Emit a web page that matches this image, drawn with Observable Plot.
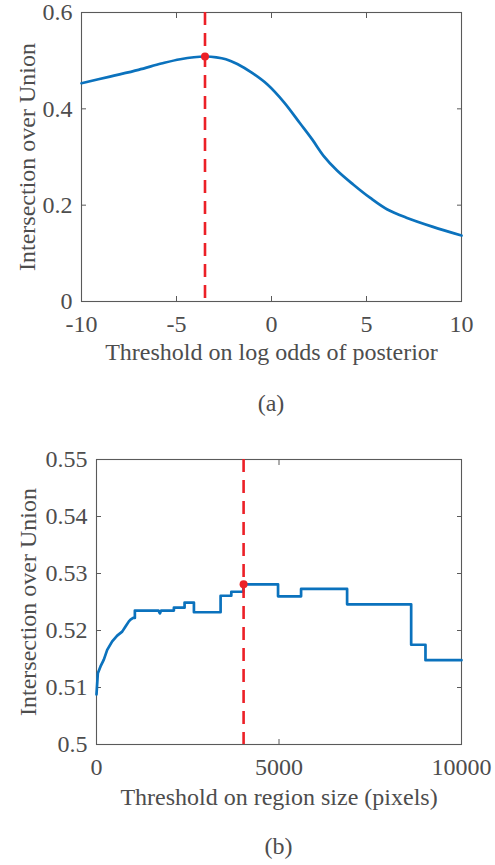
<!DOCTYPE html>
<html>
<head>
<meta charset="utf-8">
<script src="https://cdn.jsdelivr.net/npm/d3@7"></script>
<script src="https://cdn.jsdelivr.net/npm/@observablehq/plot@0.6"></script>
<style>
  html, body { margin: 0; padding: 0; background: #fff; }
  #wrap { position: relative; width: 495px; height: 865px; overflow: hidden; font-family: "Liberation Serif", "Times New Roman", serif; color: #4d4d4d; }
  .panel { position: absolute; left: 0; }
  .cap { position: absolute; left: 81px; width: 380px; text-align: center; font-size: 24px; line-height: 1; }
</style>
</head>
<body>
<div id="wrap">
  <div class="panel" id="pa" style="top:0px"></div>
  <div class="cap" style="top:391px">(a)</div>
  <div class="panel" id="pb" style="top:440px"></div>
  <div class="cap" style="top:834px; left:96px; width:365px">(b)</div>
</div>
<script>
// Panel (a): IoU vs threshold on log odds of posterior
const aX = [-10, -8.5, -7, -5.8, -4.8, -3.5, -2.9, -2.4, -1.8, -1.0, -0.2, 0.65, 1.5, 2.15, 2.75, 3.45, 4.3, 5.2, 6.1, 7.1, 8.5, 10];
const aY = [0.453, 0.467, 0.481, 0.494, 0.503, 0.5086, 0.507, 0.503, 0.493, 0.474, 0.450, 0.414, 0.370, 0.336, 0.302, 0.272, 0.243, 0.215, 0.191, 0.174, 0.155, 0.137];
const aBestX = [-3.5];
const aBestY = [0.5086];
const aXTicks = [-10, -5, 0, 5, 10];
const aYTicks = [0, 0.2, 0.4, 0.6];

// Panel (b): IoU vs threshold on region size (polyline vertices, steps as repeated x)
const bX = [0, 37, 110, 201, 293, 430, 567, 704, 795, 887, 932, 1005, 1051, 1051, 1700, 1737, 1770, 2120, 2120, 2413, 2413, 2669, 2669, 3400, 3400, 3693, 3693, 4022, 4022, 4974, 4974, 5605, 5605, 6866, 6866, 8621, 8621, 9013, 9013, 10000];
const bY = [0.5088, 0.5125, 0.5137, 0.5149, 0.5166, 0.5181, 0.5191, 0.5198, 0.5207, 0.5216, 0.5219, 0.5222, 0.5222, 0.5235, 0.5235, 0.5230, 0.5235, 0.5235, 0.5240, 0.5240, 0.5249, 0.5249, 0.5232, 0.5232, 0.5261, 0.5261, 0.5268, 0.5268, 0.5281, 0.5281, 0.5260, 0.5260, 0.5273, 0.5273, 0.5246, 0.5246, 0.5175, 0.5175, 0.5148, 0.5148];
const bBestX = [4030];
const bBestY = [0.5281];
const bXTicks = [0, 5000, 10000];
const bYTicks = [0.5, 0.51, 0.52, 0.53, 0.54, 0.55];

const BLUE = "#0b72bd";
const RED = "#ec2027";
const AX = "#5a5a5a";
const FONT = "'Liberation Serif', 'Times New Roman', serif";
const fmtNum = d => String(+d.toFixed(2));

function panel({xs, ys, bx, by, xTicks, yTicks, xDomain, yDomain, xLabel, ml, mt, mb, yLabOff, xLabOff, xFmt, curve}) {
  const data = xs.map((x, i) => ({x, y: ys[i]}));
  const best = bx.map((x, i) => ({x, y: by[i]}));
  return Plot.plot({
    width: 495, height: 380,
    marginLeft: ml, marginRight: 34, marginTop: mt, marginBottom: mb,
    style: {fontFamily: FONT, fontSize: "24px", color: "#4d4d4d", background: "transparent", overflow: "visible"},
    x: {domain: xDomain},
    y: {domain: yDomain},
    marks: [
      Plot.frame({stroke: AX, strokeWidth: 1.1}),
      Plot.axisX(xTicks, {anchor: "bottom", tickSize: -5, stroke: AX, tickPadding: 18, tickFormat: xFmt, label: xLabel, labelAnchor: "center", labelArrow: "none", labelOffset: xLabOff}),
      Plot.axisX(xTicks, {anchor: "top", tickSize: -5, stroke: AX, tickFormat: () => "", label: null}),
      Plot.axisY(yTicks, {anchor: "left", tickSize: -5, stroke: AX, tickPadding: 14, tickFormat: fmtNum, label: "Intersection over Union", labelAnchor: "center", labelArrow: "none", labelOffset: yLabOff}),
      Plot.axisY(yTicks, {anchor: "right", tickSize: -5, stroke: AX, tickFormat: () => "", label: null}),
      Plot.line(data, {x: "x", y: "y", stroke: BLUE, strokeWidth: 2.7, curve, strokeLinejoin: "round"}),
      Plot.ruleX(best, {x: "x", stroke: RED, strokeWidth: 2.6, strokeDasharray: "13,8"}),
      Plot.dot(best, {x: "x", y: "y", r: 4, fill: RED, stroke: "none"})
    ]
  });
}

document.getElementById("pa").appendChild(panel({
  xs: aX, ys: aY, bx: aBestX, by: aBestY, xTicks: aXTicks, yTicks: aYTicks,
  xDomain: [-10, 10], yDomain: [0, 0.6], xLabel: "Threshold on log odds of posterior",
  ml: 81, mt: 12, mb: 79, yLabOff: 64, xLabOff: 58, xFmt: d => String(d), curve: "catmull-rom"
}));
document.getElementById("pb").appendChild(panel({
  xs: bX, ys: bY, bx: bBestX, by: bBestY, xTicks: bXTicks, yTicks: bYTicks,
  xDomain: [0, 10000], yDomain: [0.5, 0.55], xLabel: "Threshold on region size (pixels)",
  ml: 96, mt: 19, mb: 76, yLabOff: 78, xLabOff: 60, xFmt: d => String(d), curve: "linear"
}));
</script>
</body>
</html>
